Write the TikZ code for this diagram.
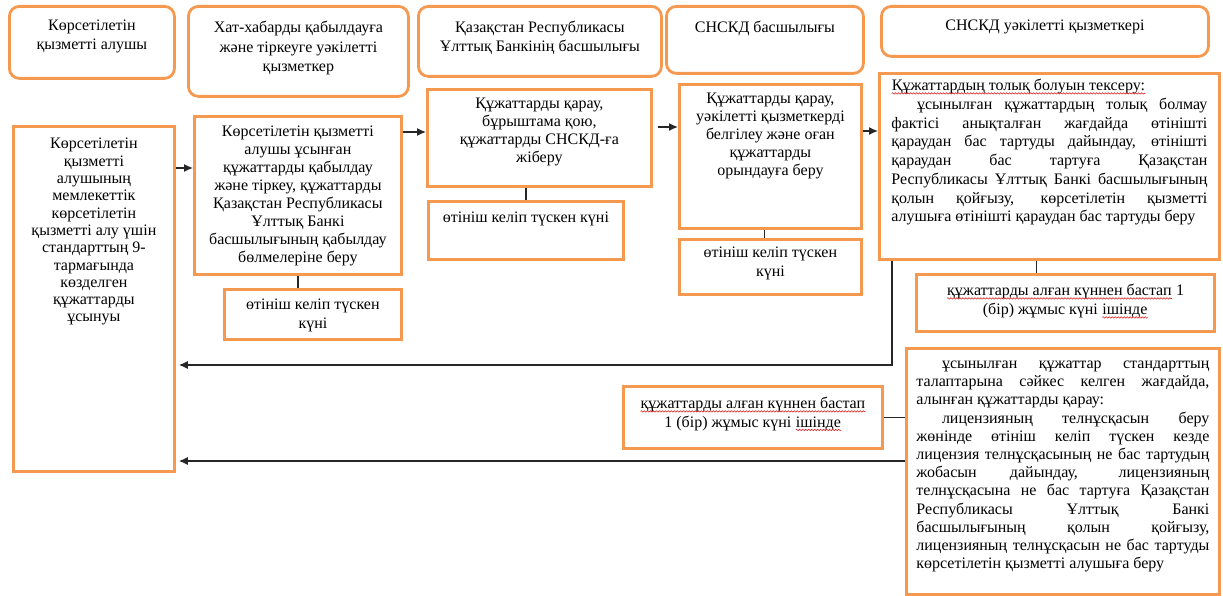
\documentclass[tikz,border=0pt]{standalone}
\usepackage{fontspec}
\setmainfont{Liberation Serif}
\usetikzlibrary{arrows.meta, decorations.pathmorphing}
\definecolor{boxorange}{RGB}{245,152,80}
\definecolor{spellred}{RGB}{220,40,40}
% width, height, top gap, line skip, text
\newcommand{\cellbox}[5]{\parbox[c][#2pt][t]{#1pt}{\baselineskip=#4pt\vspace*{#3pt}#5\par}}
\newcommand{\jline}[1]{\makebox[\linewidth][s]{#1}\par}
\newcommand{\spellmark}[1]{\tikz[baseline=(sp.base)]{\node[inner sep=0pt] (sp) {#1};
  \draw[spellred, line width=0.6pt, decorate, decoration={snake, amplitude=0.7pt, segment length=3pt}]
    ([yshift=-2.6pt]sp.base west) -- ([yshift=-2.6pt]sp.base east);}}

\begin{document}
\begin{tikzpicture}[
  x=1pt, y=-1pt,
  font=\fontsize{16}{18}\selectfont,
  block/.style={draw=boxorange, line width=2.8pt, inner sep=0pt, anchor=north west},
  head/.style={block, rounded corners=10pt},
  link/.style={line width=1.3pt, black!85},
  arr/.style={link, -{Latex[length=9pt,width=8pt]}}
]
\useasboundingbox (0,0) rectangle (1223,596);

% Lanes
\node (recipient-head) at (8,5) [head] {\cellbox{165}{72}{14}{19}{\centering Көрсетілетін\\қызметті алушы}};
\node (office-head) at (187,5) [head] {\cellbox{220}{90}{15}{19.5}{\centering Хат-хабарды қабылдауға\\және тіркеуге уәкілетті\\қызметкер}};
\node (bank-head) at (417,5) [head] {\cellbox{243}{70}{15}{18.5}{\centering Қазақстан Республикасы\\Ұлттық Банкінің басшылығы}};
\node (snskd-head) at (665,5) [head] {\cellbox{197}{67}{15}{19}{\centering СНСКД басшылығы}};
\node (clerk-head) at (880,5) [head] {\cellbox{327}{50}{14}{19}{\centering СНСКД уәкілетті қызметкері}};

% Steps
\node (recipient-box) at (12,125) [block] {\cellbox{161}{345}{12}{17.3}{\centering Көрсетілетін\\қызметті\\алушының\\мемлекеттік\\көрсетілетін\\қызметті алу үшін\\стандарттың 9-\\тармағында\\көзделген\\құжаттарды\\ұсынуы}};
\node (office-box) at (193,115) [block] {\cellbox{207}{158}{10}{18}{\centering Көрсетілетін қызметті\\алушы ұсынған\\құжаттарды қабылдау\\және тіркеу, құжаттарды\\Қазақстан Республикасы\\Ұлттық Банкі\\басшылығының қабылдау\\бөлмелеріне беру}};
\node (office-time) at (223,288) [block] {\cellbox{177}{50}{10}{19}{\centering өтініш келіп түскен\\күні}};

\node (bank-box) at (426,88) [block] {\cellbox{224}{97}{9}{18}{\centering Құжаттарды қарау,\\бұрыштама қою,\\құжаттарды СНСКД-ға\\жіберу}};
\node (bank-time) at (427,200) [block] {\cellbox{195}{58}{11}{18}{\centering өтініш келіп түскен күні}};

\node (snskd-box) at (678,83) [block] {\cellbox{182}{144}{9}{18}{\centering Құжаттарды қарау,\\уәкілетті қызметкерді\\белгілеу және оған\\құжаттарды\\орындауға беру}};
\node (snskd-time) at (678,238) [block] {\cellbox{182}{55}{8}{19}{\centering өтініш келіп түскен\\күні}};

\node (check-box) at (878,72) [block, inner xsep=12pt] {\cellbox{316}{186}{6}{18.7}{%
  \spellmark{Құжаттардың толық болуын тексеру:}\par
  \jline{\hspace*{1.6em}ұсынылған құжаттардың толық болмау}
  \jline{фактісі анықталған жағдайда өтінішті}
  \jline{қараудан бас тартуды дайындау, өтінішті}
  \jline{қараудан бас тартуға Қазақстан}
  \jline{Республикасы Ұлттық Банкі басшылығының}
  \jline{қолын қойғызу, көрсетілетін қызметті}
  алушыға өтінішті қараудан бас тартуды беру}};
\node (check-time) at (915,273) [block] {\cellbox{298}{57}{10}{19}{\centering \spellmark{құжаттарды алған күннен бастап} 1\\(бір) жұмыс күні \spellmark{ішінде}}};

\node (result-box) at (905,347) [block, inner xsep=10pt] {\cellbox{293}{246}{12.5}{18.2}{%
  \jline{\hspace*{1.6em}ұсынылған құжаттар стандарттың}
  \jline{талаптарына сәйкес келген жағдайда,}
  алынған құжаттарды қарау:\par
  \jline{\hspace*{1.6em}лицензияның телнұсқасын беру}
  \jline{жөнінде өтініш келіп түскен кезде}
  \jline{лицензия телнұсқасының не бас тартудың}
  \jline{жобасын дайындау, лицензияның}
  \jline{телнұсқасына не бас тартуға Қазақстан}
  \jline{Республикасы Ұлттық Банкі}
  \jline{басшылығының қолын қойғызу,}
  \jline{лицензияның телнұсқасын не бас тартуды}
  көрсетілетін қызметті алушыға беру}};
\node (result-time) at (622,385) [block] {\cellbox{259}{62}{11}{18.5}{\centering \spellmark{құжаттарды алған күннен бастап}\\1 (бір) жұмыс күні \spellmark{ішінде}}};

% Flow levels
\coordinate (lvl-a) at (0,168);
\coordinate (lvl-b) at (0,132);
\coordinate (lvl-c) at (0,127);
\coordinate (lvl-d) at (0,131);
\coordinate (turn) at (892,365);
\coordinate (lvl-e) at (0,461);

% Forward arrows
\draw[arr] (recipient-box.east |- lvl-a) -- (office-box.west |- lvl-a);
\draw[arr] (office-box.east |- lvl-b) -- (bank-box.west |- lvl-b);
\draw[arr] ([xshift=5pt]bank-box.east |- lvl-c) -- (snskd-box.west |- lvl-c);
\draw[arr] (snskd-box.east |- lvl-d) -- (check-box.west |- lvl-d);

% Time links
\draw[link] (office-box.south) -- (office-box.south |- office-time.north);
\draw[link] (bank-time.north |- bank-box.south) -- (bank-time.north);
\draw[link] ([xshift=-6pt]snskd-box.south) -- ([xshift=-6pt]snskd-box.south |- snskd-time.north);
\draw[link] ([xshift=-13pt]check-box.south) -- ([xshift=-13pt]check-box.south |- check-time.north);
\draw[link] (result-time.east) -- (result-time.east -| result-box.west);

% Back to recipient
\draw[arr] (turn |- check-box.south) -- (turn) -- ([xshift=3pt]turn -| recipient-box.east);
\draw[arr] (result-box.west |- lvl-e) -- ([xshift=3pt]recipient-box.east |- lvl-e);

\end{tikzpicture}
\end{document}
